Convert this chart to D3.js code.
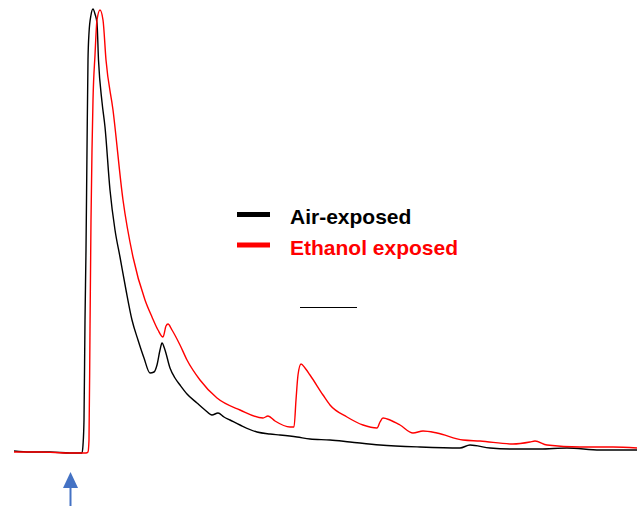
<!DOCTYPE html>
<html>
<head>
<meta charset="utf-8">
<script src="https://cdn.jsdelivr.net/npm/d3@7"></script>
<style>
  body { margin: 0; background: #fff; }
  svg { display: block; font-family: "Liberation Sans", Arial, sans-serif; }
</style>
</head>
<body>
<svg id="drawing_region"></svg>
<script>
// time (arbitrary units) and signal (arbitrary units)
const airTime = [0,16,36,56,68,69,70,71,72,73,74,75,77,79,81,83,84.5,88,91,96,101,106,112,118,124,130,136,140,143,146,148,151,156,161,166,173,183,191,198,204,210,216,226,243,256,266,283,296,316,336,366,406,446,456,476,499,526,553,586,623];
const airSignal = [2,1,1,0,0,8,33,133,203,303,393,420,438,444,439,430,393,351,326,263,223,196,163,133,113,95,80,81,88,103,110,103,85,75,68,59,50,43,38,40,36,33,28,21,19,18,16,14,13,11,8,6,5,8,5,4,4,5,3,3];

const ethTime = [0,26,56,72,74,75,76,77,78,79,81,83,86,89,92,99,109,119,131,138,144,149,152,154,158,166,173,186,203,226,249,254,261,276,280,282,284,287,291,296,309,316,333,349,363,366,369,376,386,399,409,423,449,466,499,516,521,533,566,599,623];
const ethSignal = [1,1,0,0,1,13,123,233,303,353,398,433,443,433,393,343,253,196,153,136,123,116,127,129,123,108,93,73,55,43,35,37,32,26,26,53,78,89,85,78,58,48,36,28,25,31,35,33,28,20,22,20,13,12,9,11,12,8,6,6,5];

const seriesNames = ["Air-exposed", "Ethanol exposed"];
const seriesColors = ["#000000", "#ff0000"];

const stimulusTime = 56;      // arrow marks the stimulus
const scaleBarTime = [286, 343];
const scaleBarSignal = 146;

const width = 639, height = 506;

const svg = d3.select("#drawing_region")
    .attr("width", width)
    .attr("height", height);

const x = d3.scaleLinear().domain([0, 625]).range([14, 639]);
const y = d3.scaleLinear().domain([0, 444]).range([453, 9]);

const line = d3.line()
    .x(d => x(d[0]))
    .y(d => y(d[1]))
    .curve(d3.curveMonotoneX);

const series = [
    d3.zip(airTime, airSignal),
    d3.zip(ethTime, ethSignal)
];

// draw black first so red sits over it in the tail
svg.selectAll(".trace")
    .data(series)
    .enter()
    .append("path")
    .attr("class", "trace")
    .attr("d", line)
    .attr("fill", "none")
    .attr("stroke", (d, i) => seriesColors[i])
    .attr("stroke-width", 1.4)
    .attr("stroke-linejoin", "round");

// legend
const legend = svg.append("g");
seriesNames.forEach((name, i) => {
    legend.append("rect")
        .attr("x", 237)
        .attr("y", 212 + i * 30.5)
        .attr("width", 33)
        .attr("height", 5)
        .attr("fill", seriesColors[i]);
    legend.append("text")
        .attr("x", 290)
        .attr("y", 224 + i * 31)
        .attr("fill", seriesColors[i])
        .attr("font-size", "21px")
        .attr("font-weight", "bold")
        .text(name);
});

// scale bar
svg.append("line")
    .attr("x1", x(scaleBarTime[0]))
    .attr("x2", x(scaleBarTime[1]))
    .attr("y1", y(scaleBarSignal) + 0.5)
    .attr("y2", y(scaleBarSignal) + 0.5)
    .attr("stroke", "#000")
    .attr("stroke-width", 1)
    .attr("shape-rendering", "crispEdges");

// stimulus arrow
const ax = x(stimulusTime) + 0.5;
svg.append("line")
    .attr("x1", ax).attr("x2", ax)
    .attr("y1", 486).attr("y2", 506)
    .attr("stroke", "#4472C4")
    .attr("stroke-width", 2);
svg.append("path")
    .attr("d", `M${ax},472 L${ax - 7.5},488 L${ax + 7.5},488 Z`)
    .attr("fill", "#4472C4");
</script>
</body>
</html>
